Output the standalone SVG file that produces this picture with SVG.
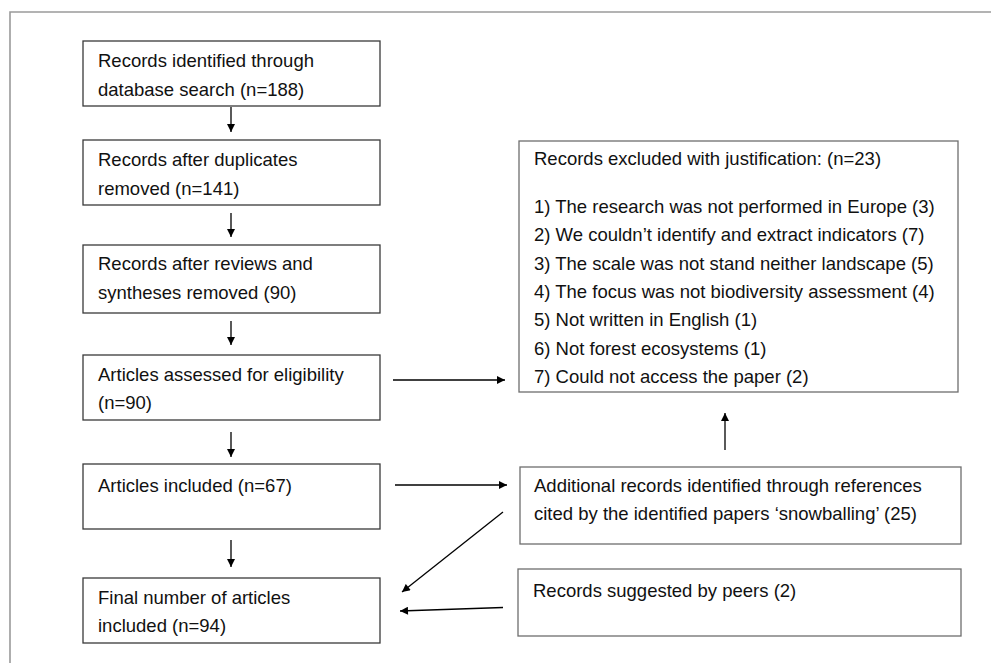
<svg xmlns="http://www.w3.org/2000/svg" width="991" height="663" viewBox="0 0 991 663">
<style>
.frame{fill:none;stroke:#9a9a9a;stroke-width:1.6}
.boxL{fill:#fff;stroke:#3a3a3a;stroke-width:1.3}
.boxR{fill:#fff;stroke:#6e6e6e;stroke-width:1.3}
.t{font-family:"Liberation Sans",Arial,sans-serif;font-size:18.5px;fill:#111}
.c{stroke:#000;stroke-width:1.3;fill:none;marker-end:url(#ah)}
</style>
<defs>
<marker id="ah" viewBox="0 0 10 10" refX="10" refY="5" markerWidth="9" markerHeight="8" markerUnits="userSpaceOnUse" orient="auto">
<path d="M0,0 L10,5 L0,10 z" fill="#000"/>
</marker>
</defs>
<rect width="991" height="663" fill="#fff"/>
<path class="frame" d="M10,663 L10,12 L991,12"/>

<g id="n1"><rect class="boxL" x="83" y="41" width="297" height="65"/>
<text class="t" x="98" y="67">Records identified through</text>
<text class="t" x="98" y="96">database search (n=188)</text></g>

<g id="n2"><rect class="boxL" x="83" y="140" width="297" height="65"/>
<text class="t" x="98" y="166">Records after duplicates</text>
<text class="t" x="98" y="195">removed (n=141)</text></g>

<g id="n3"><rect class="boxL" x="83" y="245" width="297" height="68"/>
<text class="t" x="98" y="270">Records after reviews and</text>
<text class="t" x="98" y="298.5">syntheses removed (90)</text></g>

<g id="n4"><rect class="boxL" x="83" y="355" width="297" height="65"/>
<text class="t" x="98" y="380.5">Articles assessed for eligibility</text>
<text class="t" x="98" y="409">(n=90)</text></g>

<g id="n5"><rect class="boxL" x="83" y="464" width="297" height="65"/>
<text class="t" x="98" y="491.5">Articles included (n=67)</text></g>

<g id="n6"><rect class="boxL" x="83" y="578" width="297" height="65"/>
<text class="t" x="98" y="603.5">Final number of articles</text>
<text class="t" x="98" y="632">included (n=94)</text></g>

<g id="n7"><rect class="boxR" x="519" y="141" width="439" height="251"/>
<text class="t" x="534" y="165">Records excluded with justification: (n=23)</text>
<text class="t" x="534" y="213">1) The research was not performed in Europe (3)</text>
<text class="t" x="534" y="241.3">2) We couldn’t identify and extract indicators (7)</text>
<text class="t" x="534" y="269.6">3) The scale was not stand neither landscape (5)</text>
<text class="t" x="534" y="297.9">4) The focus was not biodiversity assessment (4)</text>
<text class="t" x="534" y="326.2">5) Not written in English (1)</text>
<text class="t" x="534" y="354.5">6) Not forest ecosystems (1)</text>
<text class="t" x="534" y="382.8">7) Could not access the paper (2)</text></g>

<g id="n8"><rect class="boxR" x="520" y="467" width="441" height="77"/>
<text class="t" x="534" y="492">Additional records identified through references</text>
<text class="t" x="534" y="520">cited by the identified papers ‘snowballing’ (25)</text></g>

<g id="n9"><rect class="boxR" x="518" y="569" width="443" height="67"/>
<text class="t" x="533" y="596.5">Records suggested by peers (2)</text></g>

<g id="connectors">
<line class="c" x1="231" y1="107" x2="231" y2="132"/>
<line class="c" x1="231" y1="213" x2="231" y2="237"/>
<line class="c" x1="231" y1="321" x2="231" y2="345"/>
<line class="c" x1="231" y1="432" x2="231" y2="457"/>
<line class="c" x1="231" y1="540" x2="231" y2="567"/>
<line class="c" x1="393" y1="380" x2="505" y2="380"/>
<line class="c" x1="395" y1="485" x2="507" y2="485"/>
<line class="c" x1="725" y1="450" x2="725" y2="413"/>
<line class="c" x1="503" y1="512" x2="402" y2="592"/>
<line class="c" x1="503" y1="607.5" x2="400" y2="611"/>
</g>
</svg>
